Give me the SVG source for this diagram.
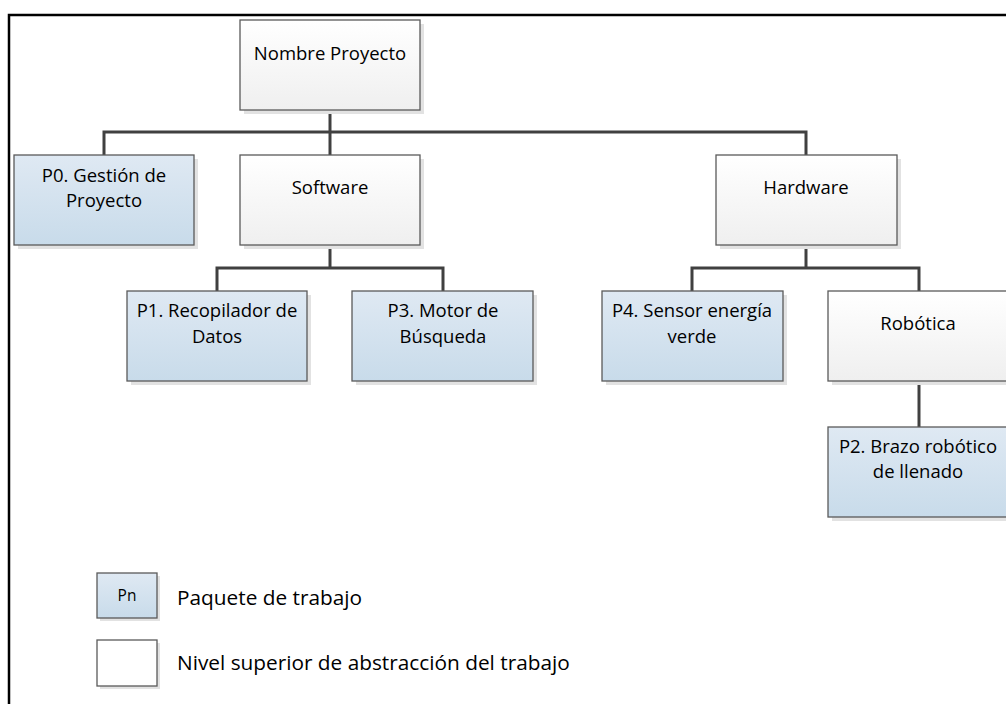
<svg xmlns="http://www.w3.org/2000/svg" width="1006" height="704" viewBox="0 0 1006 704">
<defs>
<linearGradient id="gW" x1="0" y1="0" x2="0" y2="1"><stop offset="0" stop-color="#ffffff"/><stop offset="1" stop-color="#efefef"/></linearGradient>
<linearGradient id="gB" x1="0" y1="0" x2="0" y2="1"><stop offset="0" stop-color="#dfe9f3"/><stop offset="1" stop-color="#c8dbea"/></linearGradient>
<style>
.sh{fill:#e2e2e2}
.w{fill:url(#gW);stroke:#5a5a5a;stroke-width:1.3}
.b{fill:url(#gB);stroke:#5a5a5a;stroke-width:1.3}
.t{font-family:"Open Sans","Liberation Sans",sans-serif;font-size:18.5px;fill:#000;text-anchor:middle}
.lg{font-family:"Open Sans","Liberation Sans",sans-serif;font-size:20.8px;fill:#000}
.c{fill:none;stroke:#404040;stroke-width:3}
.f{fill:none;stroke:#000;stroke-width:2.5}
</style>
</defs>
<rect width="1006" height="704" fill="#fff"/>
<path class="f" d="M9,704 V15 H1006"/>
<g id="connectors">
<path class="c" d="M330,110 V155"/>
<path class="c" d="M104,155 V132 H806 V155"/>
<path class="c" d="M330,245 V268"/>
<path class="c" d="M217,291 V268 H443 V291"/>
<path class="c" d="M806,245 V268"/>
<path class="c" d="M692,291 V268 H919 V291"/>
<path class="c" d="M919,381 V427"/>
</g>
<g id="n-root"><rect class="sh" x="244" y="24" width="180" height="90"/><rect class="w" x="240" y="20" width="180" height="90"/><text class="t" x="330" y="60">Nombre Proyecto</text></g>
<g id="n-p0"><rect class="sh" x="18" y="159" width="180" height="90"/><rect class="b" x="14" y="155" width="180" height="90"/><text class="t" x="104" y="182">P0. Gestión de</text><text class="t" x="104" y="207">Proyecto</text></g>
<g id="n-software"><rect class="sh" x="244" y="159" width="180" height="90"/><rect class="w" x="240" y="155" width="180" height="90"/><text class="t" x="330" y="194">Software</text></g>
<g id="n-hardware"><rect class="sh" x="720" y="159" width="181" height="90"/><rect class="w" x="716" y="155" width="181" height="90"/><text class="t" x="806" y="194">Hardware</text></g>
<g id="n-p1"><rect class="sh" x="131" y="295" width="180" height="90"/><rect class="b" x="127" y="291" width="180" height="90"/><text class="t" x="217" y="317">P1. Recopilador de</text><text class="t" x="217" y="343">Datos</text></g>
<g id="n-p3"><rect class="sh" x="356" y="295" width="181" height="90"/><rect class="b" x="352" y="291" width="181" height="90"/><text class="t" x="443" y="317">P3. Motor de</text><text class="t" x="443" y="343">Búsqueda</text></g>
<g id="n-p4"><rect class="sh" x="606" y="295" width="181" height="90"/><rect class="b" x="602" y="291" width="181" height="90"/><text class="t" x="692" y="317">P4. Sensor energía</text><text class="t" x="692" y="343">verde</text></g>
<g id="n-robotica"><rect class="sh" x="832" y="295" width="180" height="90"/><rect class="w" x="828" y="291" width="180" height="90"/><text class="t" x="918" y="330">Robótica</text></g>
<g id="n-p2"><rect class="sh" x="832" y="431" width="180" height="90"/><rect class="b" x="828" y="427" width="180" height="90"/><text class="t" x="918" y="453">P2. Brazo robótico</text><text class="t" x="918" y="478">de llenado</text></g>
<g id="legend-pn"><rect class="sh" x="100" y="576" width="60" height="45"/><rect class="b" x="97" y="573" width="60" height="45"/><text class="t" x="127" y="601" style="font-size:15.5px">Pn</text><text class="lg" x="177" y="605">Paquete de trabajo</text></g>
<g id="legend-nivel"><rect class="sh" x="100" y="643" width="60" height="46"/><rect x="97" y="640" width="60" height="46" fill="#fff" stroke="#5a5a5a" stroke-width="1.3"/><text class="lg" x="177" y="670">Nivel superior de abstracción del trabajo</text></g>
</svg>
